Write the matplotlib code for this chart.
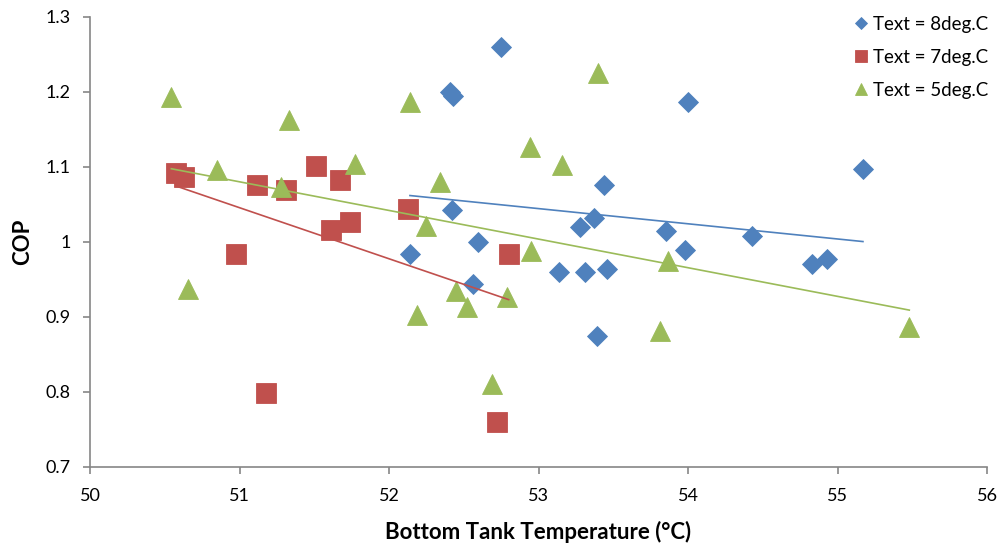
import numpy as np
import matplotlib
matplotlib.use("Agg")
import matplotlib.pyplot as plt

plt.rcParams['font.family'] = ['Lato', 'DejaVu Sans']

# Text = 8deg.C
x8 = [52.75, 52.41, 52.43, 54.00, 55.17, 53.44, 52.42, 52.14, 52.595, 52.56, 53.28,
      53.37, 53.14, 53.31, 53.455, 53.39, 53.85, 53.98, 54.43, 54.83, 54.93]
cop8 = [1.260, 1.200, 1.195, 1.186, 1.097, 1.076, 1.043, 0.984, 1.000, 0.944, 1.020,
        1.032, 0.960, 0.960, 0.964, 0.874, 1.015, 0.989, 1.008, 0.971, 0.977]

# Text = 7deg.C
x7 = [50.575, 50.63, 51.115, 51.31, 51.51, 51.67, 51.61, 51.74, 52.13, 50.975, 51.18, 52.80, 52.72]
cop7 = [1.092, 1.087, 1.076, 1.069, 1.101, 1.082, 1.016, 1.027, 1.044, 0.984, 0.798, 0.984, 0.760]

# Text = 5deg.C
x5 = [50.544, 50.653, 50.85, 51.28, 51.33, 51.775, 52.14, 52.19, 52.25, 52.34, 52.446,
      52.52, 52.69, 52.79, 52.94, 52.95, 53.16, 53.40, 53.81, 53.865, 55.48]
cop5 = [1.193, 0.937, 1.096, 1.073, 1.162, 1.104, 1.186, 0.902, 1.021, 1.080, 0.935,
        0.913, 0.810, 0.926, 1.127, 0.988, 1.103, 1.225, 0.881, 0.975, 0.887]

series = [
    (x8, cop8, 'D', 10.6, '#4F81BD', 'Text = 8deg.C'),
    (x7, cop7, 's', 14.2, '#C0504D', 'Text = 7deg.C'),
    (x5, cop5, '^', 15.0, '#9BBB59', 'Text = 5deg.C'),
]

fig = plt.figure(figsize=(9.97, 5.46), dpi=100)
ax = fig.add_axes([0.0903, 0.1447, 0.8997, 0.8242])

handles = []
for xs, ys, mk, ms, col, lab in series:
    h, = ax.plot(xs, ys, linestyle='none', marker=mk, markersize=ms,
                 color=col, markeredgecolor=col, markeredgewidth=0.6, zorder=3, label=lab)
    handles.append(h)

# linear trendlines over each series range
for xs, ys, mk, ms, col, lab in series:
    xs = np.array(xs)
    k, b = np.polyfit(xs, ys, 1)
    xx = np.array([xs.min(), xs.max()])
    ax.plot(xx, k * xx + b, color=col, lw=1.2, zorder=4)

ax.set_xlim(50, 56)
ax.set_ylim(0.7, 1.3)
ax.set_xticks(np.arange(50, 57, 1))
ax.set_yticks(np.arange(0.7, 1.31, 0.1))
ax.set_yticklabels(['0.7', '0.8', '0.9', '1', '1.1', '1.2', '1.3'])

for s in ['top', 'right']:
    ax.spines[s].set_visible(False)
for s in ['left', 'bottom']:
    ax.spines[s].set_color('#868686')
    ax.spines[s].set_linewidth(1.2)
ax.tick_params(direction='out', length=5, width=1.2, color='#868686',
               labelsize=13, labelcolor='black')
ax.tick_params(axis='y', pad=9)
ax.tick_params(axis='x', pad=10)

ax.set_xlabel('Bottom Tank Temperature (°C)', fontsize=16, fontweight='bold', labelpad=12)
ax.set_ylabel('COP', fontsize=16, fontweight='bold', labelpad=9)

leg = ax.legend(handles=handles, loc='upper right', bbox_to_anchor=(1.02, 1.04),
                frameon=False, fontsize=13.5, handlelength=0.6, handletextpad=0.35,
                labelspacing=0.85, markerscale=0.62)

fig.savefig('out.png', dpi=100)
